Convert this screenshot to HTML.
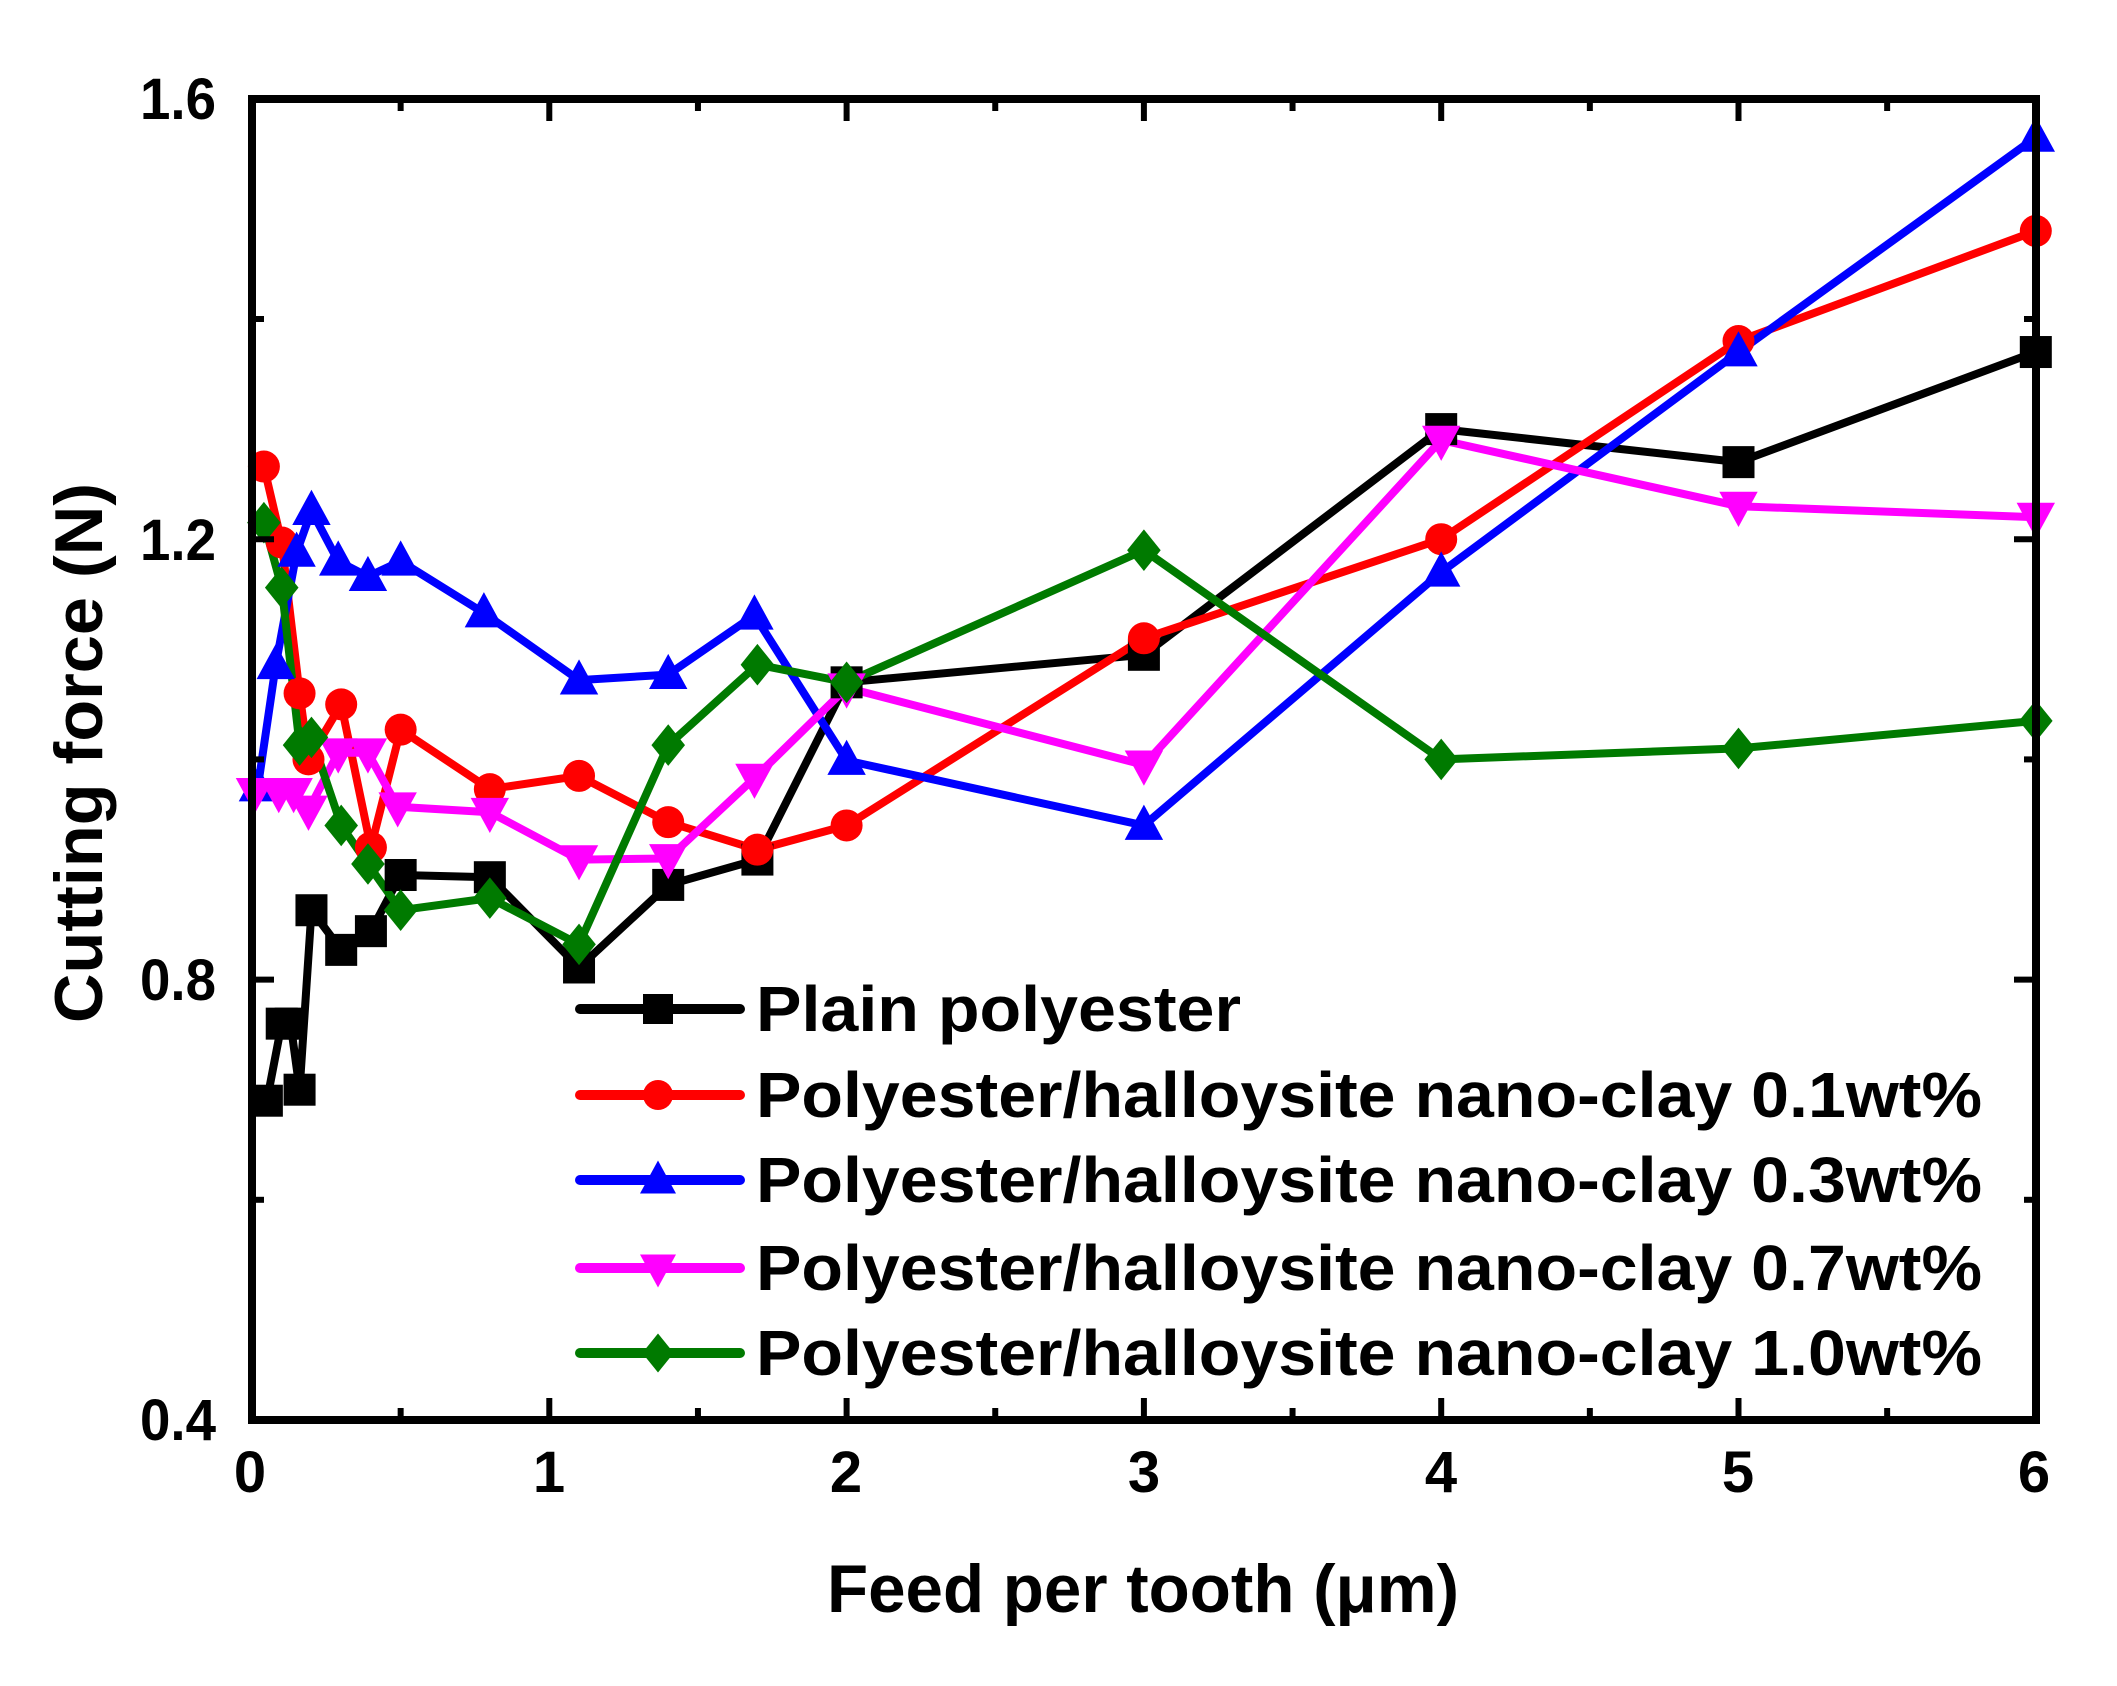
<!DOCTYPE html>
<html><head><meta charset="utf-8"><style>html,body{margin:0;padding:0;background:#fff}svg{display:block}</style></head>
<body>
<svg id="s" width="2117" height="1686" viewBox="0 0 2117 1686" xmlns="http://www.w3.org/2000/svg" font-family="Liberation Sans, Arial, sans-serif" font-weight="bold">
<rect width="2117" height="1686" fill="#fff"/>
<g id="series"></g>
<g id="axes" stroke="#000" stroke-width="8" fill="none">
<rect x="252" y="99" width="1784" height="1321" stroke-linejoin="miter"/>
</g>
<g id="ticks" stroke="#000" stroke-width="6"></g>
<g font-size="58" fill="#000" text-anchor="end">
<text x="216" y="119" textLength="76" lengthAdjust="spacingAndGlyphs">1.6</text>
<text x="216" y="560" textLength="76" lengthAdjust="spacingAndGlyphs">1.2</text>
<text x="216" y="1000" textLength="76" lengthAdjust="spacingAndGlyphs">0.8</text>
<text x="216" y="1440" textLength="76" lengthAdjust="spacingAndGlyphs">0.4</text>
</g>
<g font-size="58" fill="#000" text-anchor="middle">
<text x="250" y="1492">0</text>
<text x="549" y="1492">1</text>
<text x="846" y="1492">2</text>
<text x="1144" y="1492">3</text>
<text x="1441" y="1492">4</text>
<text x="1738" y="1492">5</text>
<text x="2034" y="1492">6</text>
</g>
<text x="827" y="1612" font-size="68" textLength="632" lengthAdjust="spacingAndGlyphs">Feed per tooth (μm)</text>
<text transform="translate(102,1023) rotate(-90)" font-size="68" textLength="540" lengthAdjust="spacingAndGlyphs">Cutting force (N)</text>
<g id="legend"></g>
<g font-size="64" fill="#000">
<text x="756" y="1031" textLength="485" lengthAdjust="spacingAndGlyphs">Plain polyester</text>
<text x="756" y="1117" textLength="1226" lengthAdjust="spacingAndGlyphs">Polyester/halloysite nano-clay 0.1wt%</text>
<text x="756" y="1202" textLength="1226" lengthAdjust="spacingAndGlyphs">Polyester/halloysite nano-clay 0.3wt%</text>
<text x="756" y="1290" textLength="1226" lengthAdjust="spacingAndGlyphs">Polyester/halloysite nano-clay 0.7wt%</text>
<text x="756" y="1375" textLength="1226" lengthAdjust="spacingAndGlyphs">Polyester/halloysite nano-clay 1.0wt%</text>
</g>
</svg>
<script>
(function(){
var NS="http://www.w3.org/2000/svg";
function X(v){return 252+297.3*v;}
function Y(v){return 1420-1101*(v-0.4);}
function el(t,a,p){var e=document.createElementNS(NS,t);for(var k in a)e.setAttribute(k,a[k]);p.appendChild(e);return e;}
var ticks=document.getElementById('ticks');
for(var i=0;i<=12;i++){var v=i*0.5,x=X(v),L=(i%2==0)?22:12;
 if(i>0&&i<12){el('line',{x1:x,y1:1420,x2:x,y2:1420-L},ticks);el('line',{x1:x,y1:99,x2:x,y2:99+L},ticks);}}
for(var j=0;j<=6;j++){var v=0.4+j*0.2,y=Y(v),L=(j%2==0)?22:12;
 if(j>0&&j<6){el('line',{x1:252,y1:y,x2:252+L,y2:y},ticks);el('line',{x1:2036,y1:y,x2:2036-L,y2:y},ticks);}}
function marker(type,x,y,c,g,s){s=s||13;
 if(type=='sq')el('rect',{x:x-s,y:y-s,width:2*s,height:2*s,fill:c},g);
 else if(type=='ci')el('circle',{cx:x,cy:y,r:s,fill:c},g);
 else if(type=='tu')el('polygon',{points:(x)+','+(y-s*1.3)+' '+(x+s*1.2)+','+(y+s*0.9)+' '+(x-s*1.2)+','+(y+s*0.9),fill:c},g);
 else if(type=='td')el('polygon',{points:(x)+','+(y+s*1.3)+' '+(x+s*1.2)+','+(y-s*0.9)+' '+(x-s*1.2)+','+(y-s*0.9),fill:c},g);
 else if(type=='di')el('polygon',{points:x+','+(y-s*1.3)+' '+(x+s*1.05)+','+y+' '+x+','+(y+s*1.3)+' '+(x-s*1.05)+','+y,fill:c},g);
}
var S=[
 {c:'#000',m:'sq',d:[[0.05,0.69],[0.1,0.76],[0.13,0.76],[0.16,0.70],[0.2,0.863],[0.3,0.827],[0.4,0.844],[0.5,0.895],[0.8,0.893],[1.1,0.811],[1.4,0.886],[1.7,0.909],[2,1.07],[3,1.095],[4,1.30],[5,1.27],[6,1.37]]},
 {c:'#ff0000',m:'ci',d:[[0.04,1.266],[0.1,1.197],[0.16,1.06],[0.19,1.0],[0.3,1.05],[0.4,0.92],[0.5,1.027],[0.8,0.973],[1.1,0.985],[1.4,0.943],[1.7,0.918],[2,0.94],[3,1.11],[4,1.20],[5,1.38],[6,1.48]]},
 {c:'#0000ff',m:'tu',d:[[0.02,0.975],[0.08,1.086],[0.15,1.188],[0.2,1.226],[0.29,1.18],[0.39,1.166],[0.5,1.18],[0.78,1.133],[1.1,1.072],[1.4,1.077],[1.69,1.131],[2,0.999],[3,0.94],[4,1.17],[5,1.37],[6,1.565]]},
 {c:'#ff00ff',m:'td',d:[[0.01,0.97],[0.09,0.97],[0.14,0.97],[0.19,0.954],[0.29,1.006],[0.39,1.006],[0.49,0.957],[0.8,0.952],[1.1,0.909],[1.4,0.91],[1.69,0.983],[2,1.065],[3,0.995],[4,1.29],[5,1.23],[6,1.22]]},
 {c:'#007a00',m:'di',d:[[0.04,1.215],[0.1,1.156],[0.16,1.013],[0.2,1.02],[0.3,0.94],[0.39,0.905],[0.5,0.863],[0.8,0.874],[1.1,0.832],[1.4,1.013],[1.7,1.086],[2,1.07],[3,1.19],[4,1.00],[5,1.01],[6,1.035]]}
];
var g=document.getElementById('series');
S.forEach(function(s){
 var pts=s.d.map(function(p){return X(p[0]).toFixed(1)+','+Y(p[1]).toFixed(1);}).join(' ');
 el('polyline',{points:pts,fill:'none',stroke:s.c,'stroke-width':8,'stroke-linejoin':'round'},g);
});
S.forEach(function(s){s.d.forEach(function(p){marker(s.m,X(p[0]),Y(p[1]),s.c,g,16);});});
var lg=document.getElementById('legend');var ly=[1009,1095,1180,1268,1353];
S.forEach(function(s,i){
 el('line',{x1:580,y1:ly[i],x2:740,y2:ly[i],stroke:s.c,'stroke-width':10,'stroke-linecap':'round'},lg);
 marker(s.m,658,ly[i],s.c,lg,15);
});
})();
</script>
</body></html>
